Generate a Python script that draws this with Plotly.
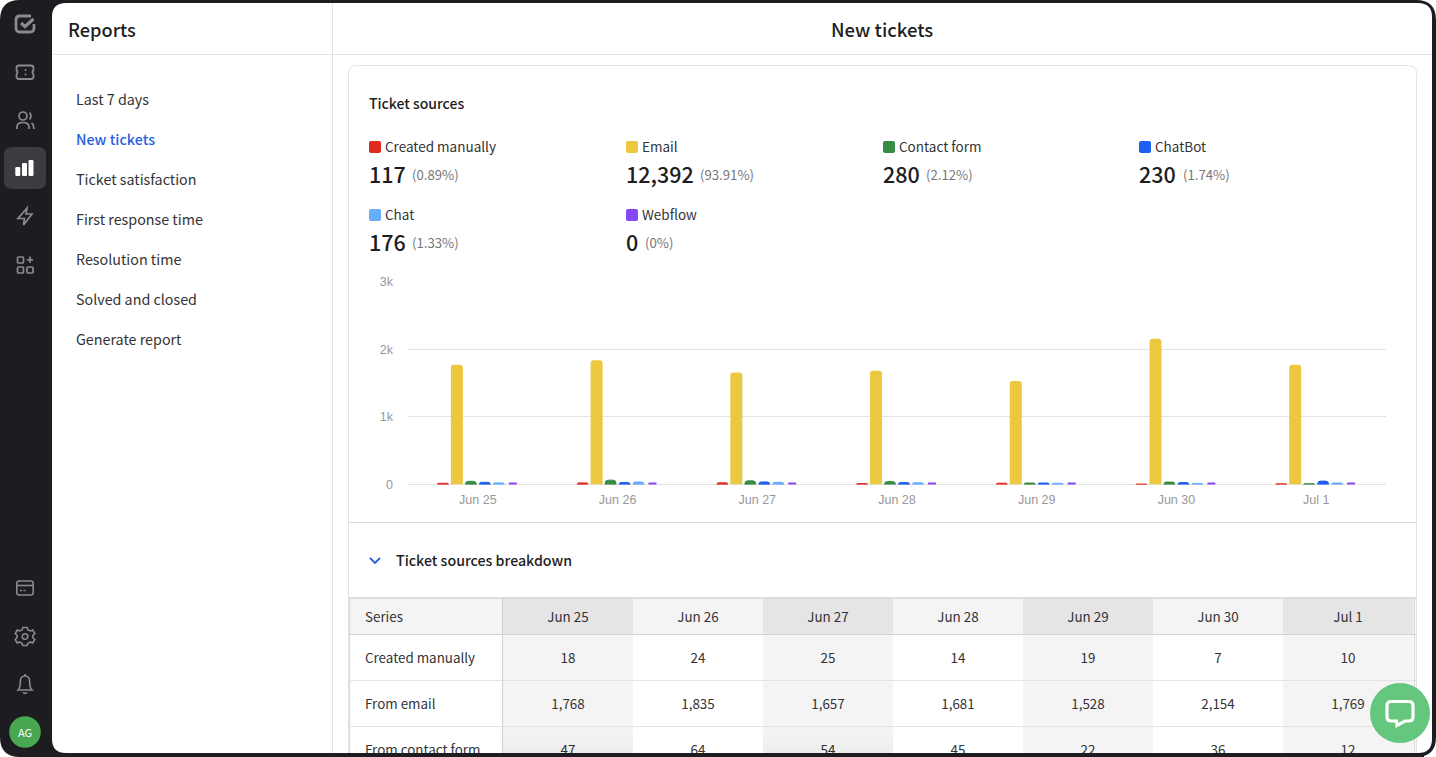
import plotly.graph_objects as go

# ---------- data ----------
days = ["Jun 25", "Jun 26", "Jun 27", "Jun 28", "Jun 29", "Jun 30", "Jul 1"]
created_manually = [18, 24, 25, 14, 19, 7, 10]
email = [1768, 1835, 1657, 1681, 1528, 2154, 1769]
contact_form = [47, 64, 54, 45, 22, 36, 12]
chatbot = [32, 30, 38, 30, 22, 28, 50]
chat = [24, 38, 33, 25, 18, 16, 22]
webflow = [0, 0, 0, 0, 0, 0, 0]

legend_names = ["Created manually", "Email", "Contact form", "ChatBot", "Chat", "Webflow"]
legend_totals = ["117", "12,392", "280", "230", "176", "0"]
legend_shares = ["(0.89%)", "(93.91%)", "(2.12%)", "(1.74%)", "(1.33%)", "(0%)"]
series_colors = ["#e02b20", "#ecc840", "#388c46", "#2060f0", "#66adfa", "#8547f8"]

menu_items = ["Last 7 days", "New tickets", "Ticket satisfaction", "First response time",
              "Resolution time", "Solved and closed", "Generate report"]
table_rows = ["Created manually", "From email", "From contact form"]
y_ticks = [0, 1000, 2000, 3000]
y_tick_labels = ["0", "1k", "2k", "3k"]

# ---------- style ----------
W, H = 1436, 757
FONT = "Noto Sans CJK JP"
AXFONT = "Liberation Sans, Arial, sans-serif"
DARK = "#1c1c21"
INK = "#1d1d22"
BODY = "#333336"
ICON = "#8b8b8e"
LINE = "#e4e4e4"
SHADE = "#f4f4f4"
SHADE_HEAD = "#e5e5e5"

shapes, notes = [], []


def rr(x0, y0, x1, y1, r):
    return (f"M{x0+r},{y0} L{x1-r},{y0} Q{x1},{y0} {x1},{y0+r} L{x1},{y1-r} Q{x1},{y1} {x1-r},{y1} "
            f"L{x0+r},{y1} Q{x0},{y1} {x0},{y1-r} L{x0},{y0+r} Q{x0},{y0} {x0+r},{y0} Z")


def path(d, fill=None, line=None, lw=1.0, layer="below", **kw):
    s = dict(type="path", path=d, xref="x", yref="y", layer=layer,
             line=dict(width=lw if line else 0, color=line or "rgba(0,0,0,0)"))
    if fill:
        s["fillcolor"] = fill
    s.update(kw)
    shapes.append(s)


def box(x0, y0, x1, y1, fill, layer="below"):
    shapes.append(dict(type="rect", xref="x", yref="y", x0=x0, y0=y0, x1=x1, y1=y1,
                       fillcolor=fill, line=dict(width=0), layer=layer))


def seg(x0, y0, x1, y1, color=LINE, lw=1.0, layer="below"):
    shapes.append(dict(type="line", xref="x", yref="y", x0=x0, y0=y0, x1=x1, y1=y1,
                       line=dict(color=color, width=lw), layer=layer))


def circ(cx, cy, r, fill=None, line=None, lw=1.0, layer="below"):
    s = dict(type="circle", xref="x", yref="y", x0=cx-r, x1=cx+r, y0=cy-r, y1=cy+r, layer=layer,
             line=dict(width=lw if line else 0, color=line or "rgba(0,0,0,0)"))
    if fill:
        s["fillcolor"] = fill
    shapes.append(s)


def text(x, y, t, size, color=INK, weight=400, anchor="left", family=FONT):
    nudge = -2 if anchor == "left" else 0
    notes.append(dict(x=x + nudge, y=y, xref="x", yref="y", text=t, showarrow=False, xanchor=anchor,
                      yanchor="middle", font=dict(family=family, size=size, color=color, weight=weight)))


# ---------- window frame and panels ----------
path(rr(0, 0, W, H, 20), fill=DARK)
path(rr(52, 3, 1432, 753, 14), fill="#ffffff")
seg(332.5, 3, 332.5, 753)
seg(52, 54.5, 1432, 54.5)
path(rr(348.5, 65.5, 1416.5, 790, 8), fill="#ffffff", line=LINE)
seg(349, 522.5, 1416, 522.5, color="#d9d9d9")

text(68, 28.5, "Reports", 18.2, weight=500)
text(882, 28.5, "New tickets", 18.5, weight=500, anchor="center")
for i, item in enumerate(menu_items):
    text(76, 98.2 + 40 * i, item, 14.3, color="#2a5fe0" if i == 1 else BODY, weight=500 if i == 1 else 400)

# ---------- legend ----------
text(369, 103, "Ticket sources", 14, weight=500)
legend_x = [369, 626, 883, 1139, 369, 626]
legend_y = [147, 147, 147, 147, 215, 215]
share_x = [412, 700, 925.5, 1182.5, 412, 644.5]
for i, name in enumerate(legend_names):
    x, y = legend_x[i], legend_y[i]
    path(rr(x, y - 6, x + 12, y + 6, 2), fill=series_colors[i])
    text(x + 16, y - 1, name, 13.5, color=BODY)
    text(x, y + 26.3, legend_totals[i], 21.5, weight=500)
    text(share_x[i], y + 27, legend_shares[i], 13.2, color="#77777a")

# ---------- table ----------
text(396, 559.5, "Ticket sources breakdown", 14.2, weight=500)
path("M370,558 L375,563 L380,558", line="#2a5fe0", lw=1.8)

col_left = [503 + 130 * i for i in range(7)]
col_center = [c + 65 for c in col_left]
box(350, 598, 1415, 634, SHADE)
for i, c in enumerate(col_left):
    if i % 2 == 0:
        box(c, 598, c + 130, 634, SHADE_HEAD)
        box(c, 635, c + 130, 790, SHADE)
seg(349.5, 598, 349.5, 760, color="#dcdcdc", lw=1.5)
seg(349, 598, 1416, 598, color="#d6d6d6", lw=1.5)
seg(349, 634.5, 1416, 634.5, color="#d2d2d2")
seg(349, 680.5, 1416, 680.5)
seg(349, 726.5, 1416, 726.5)
seg(502.5, 598, 502.5, 760, color="#d2d2d2")
seg(1414.5, 598, 1414.5, 760, color="#dcdcdc", lw=1.5)

header_y = 619
row_y = [660, 706, 752]
table_columns = [created_manually, email, contact_form]


def cell_font(c=BODY):
    return dict(family=FONT, size=13.4, color=c)


traces = [
    go.Scatter(x=[365], y=[header_y], text=["Series"], mode="text", textposition="middle right",
               textfont=cell_font(), xaxis="x", yaxis="y", hoverinfo="skip", showlegend=False),
    go.Scatter(x=col_center, y=[header_y] * 7, text=days, mode="text", textposition="middle center",
               textfont=cell_font(), xaxis="x", yaxis="y", hoverinfo="skip", showlegend=False),
    go.Scatter(x=[365] * 3, y=row_y, text=table_rows, mode="text", textposition="middle right",
               textfont=cell_font(), xaxis="x", yaxis="y", hoverinfo="skip", showlegend=False),
]
for y, vals in zip(row_y, table_columns):
    traces.append(go.Scatter(x=col_center, y=[y] * 7, text=[f"{v:,}" for v in vals], mode="text",
                             textposition="middle center", textfont=cell_font(), xaxis="x", yaxis="y",
                             hoverinfo="skip", showlegend=False))

# soft shadow over the last visible row
for k in range(7):
    box(503, 733 + k * 3, 633, 757, "rgba(0,0,0,0.005)", layer="above")
    box(763, 733 + k * 3, 893, 757, "rgba(0,0,0,0.005)", layer="above")

# frame strip that cuts the table off
box(333, 753, 1424, 757, DARK, layer="above")

# ---------- sidebar icons ----------
# logo
path("M31,16 L20,16 Q16,16 16,20 L16,28 Q16,32 20,32 L30,32 Q34,32 34,28 L34,24",
     line=ICON, lw=2.8)
path("M21,23 L25,26.5 L33.5,19", line=ICON, lw=3.2)
# ticket
path("M19,65.5 L31,65.5 Q33.5,65.5 33.5,68 L33.5,70 Q31.5,72 33.5,74.5 L33.5,76.5 Q33.5,79 31,79 L19,79 "
     "Q16.5,79 16.5,76.5 L16.5,74.5 Q18.5,72 16.5,70 L16.5,68 Q16.5,65.5 19,65.5 Z", line=ICON, lw=1.8)
seg(25.5, 69, 25.5, 71, ICON, 1.5)
seg(25.5, 73.5, 25.5, 75.5, ICON, 1.5)
# users
circ(23, 116, 4, line=ICON, lw=1.7)
path("M17,129 L17,127 Q17,122.5 23,122.5 Q29,122.5 29,127 L29,129", line=ICON, lw=1.7)
path("M29.5,112.5 Q32.5,116 29.5,119.5", line=ICON, lw=1.7)
path("M31.5,123 Q33.8,124.5 33.8,129", line=ICON, lw=1.7)
# active chart button
path(rr(4, 147, 46, 189, 8), fill="#3b3b40")
path(rr(15.3, 167, 20.3, 176, 1.2), fill="#ffffff")
path(rr(22, 163, 27, 176, 1.2), fill="#ffffff")
path(rr(28.5, 160, 33.5, 176, 1.2), fill="#ffffff")
# bolt
path("M27,208 L18,218.5 L24.5,218.5 L23.5,225 L32,214 L26,214 Z", line=ICON, lw=1.7)
# grid plus
path(rr(17.5, 257, 23.5, 263, 1), line=ICON, lw=1.7)
path(rr(17.5, 267, 23.5, 273, 1), line=ICON, lw=1.7)
path(rr(27, 267, 33, 273, 1), line=ICON, lw=1.7)
seg(30, 256.5, 30, 263, ICON, 1.7)
seg(26.8, 259.8, 33.2, 259.8, ICON, 1.7)
# card
path(rr(16.8, 581, 33.2, 595, 2.5), line=ICON, lw=1.6)
seg(17, 585.5, 33, 585.5, ICON, 1.6)
seg(20, 590.5, 22, 590.5, ICON, 1.5)
seg(23.5, 590.5, 25.5, 590.5, ICON, 1.5)
# gear
path("M22.8,627.5 L27.2,627.5 L28,630 L30.4,631 L32.7,630 L34.8,633.7 L32.8,635.5 L32.8,637.5 L34.8,639.5 "
     "L32.7,643 L30.4,642 L28,643.2 L27.2,645.5 L22.8,645.5 L22,643.2 L19.6,642 L17.3,643 L15.2,639.5 "
     "L17.2,637.5 L17.2,635.5 L15.2,633.7 L17.3,630 L19.6,631 L22,630 Z", line=ICON, lw=1.6)
circ(25, 636.5, 2.8, line=ICON, lw=1.6)
# bell
path("M18,690 Q20.3,688 20.3,682 Q20.3,676 25,676 Q29.7,676 29.7,682 Q29.7,688 32,690 Z", line=ICON, lw=1.6)
path("M23,692.3 Q25,694.5 27,692.3", line=ICON, lw=1.6)
seg(25, 674, 25, 676, ICON, 1.6)
# avatar
circ(25, 732, 15.8, fill="#48a750")
text(25, 731.5, "AG", 11, color="#ffffff", anchor="center")

# ---------- chat bubble ----------
circ(1400, 713, 30, fill="#65c67e", layer="above")
path("M1391,701.5 L1409,701.5 Q1413,701.5 1413,705.5 L1413,717 Q1413,721 1409,721 L1405,721 L1397,725.5 "
     "L1396.5,721 L1391,721 Q1387,721 1387,717 L1387,705.5 Q1387,701.5 1391,701.5 Z",
     line="#ffffff", lw=3.2, layer="above")

# ---------- bars ----------
series_values = [created_manually, email, contact_form, chatbot, chat, webflow]
for name, vals, col in zip(legend_names, series_values, series_colors):
    is_empty = max(vals) == 0
    is_tall = max(vals) > 1000
    traces.append(go.Bar(x=days, y=vals, name=name, xaxis="x2", yaxis="y2",
                         width=0.0572 if is_empty else (0.0859 if is_tall else None),
                         marker=dict(color=col, line=dict(color=col, width=4 if is_empty else (0 if is_tall else 1))),
                         showlegend=False))

fig = go.Figure(traces)
fig.update_layout(
    width=W, height=H, margin=dict(l=0, r=0, t=0, b=0, autoexpand=False), autosize=False,
    paper_bgcolor="#ffffff", plot_bgcolor="rgba(0,0,0,0)", showlegend=False,
    barmode="group", bargap=0.4, bargroupgap=0.2143, barcornerradius=3,
    shapes=shapes, annotations=notes,
    xaxis=dict(domain=[0, 1], range=[0, W], visible=False, fixedrange=True),
    yaxis=dict(domain=[0, 1], range=[H, 0], visible=False, fixedrange=True),
    xaxis2=dict(domain=[408 / W, 1386 / W], anchor="y2", type="category", categoryorder="array",
                categoryarray=days, range=[-0.5, 6.5], showgrid=False, zeroline=False, showline=False,
                ticks="", ticklabelstandoff=6, fixedrange=True,
                tickfont=dict(family=AXFONT, size=12.5, color="#97979a")),
    yaxis2=dict(domain=[1 - 484.5 / H, 1 - 281.5 / H], anchor="x2", range=[0, 3000], tickvals=y_ticks,
                ticktext=y_tick_labels, gridcolor="#e3e3e3", gridwidth=1, zeroline=True,
                zerolinecolor="#e3e3e3", zerolinewidth=1, showline=False, ticks="", ticklabelstandoff=14,
                fixedrange=True, tickfont=dict(family=AXFONT, size=12.5, color="#97979a")),
)
fig.write_html("out.html", config=dict(displayModeBar=False),
               post_script="document.body.style.margin='0';document.body.style.overflow='hidden';")
